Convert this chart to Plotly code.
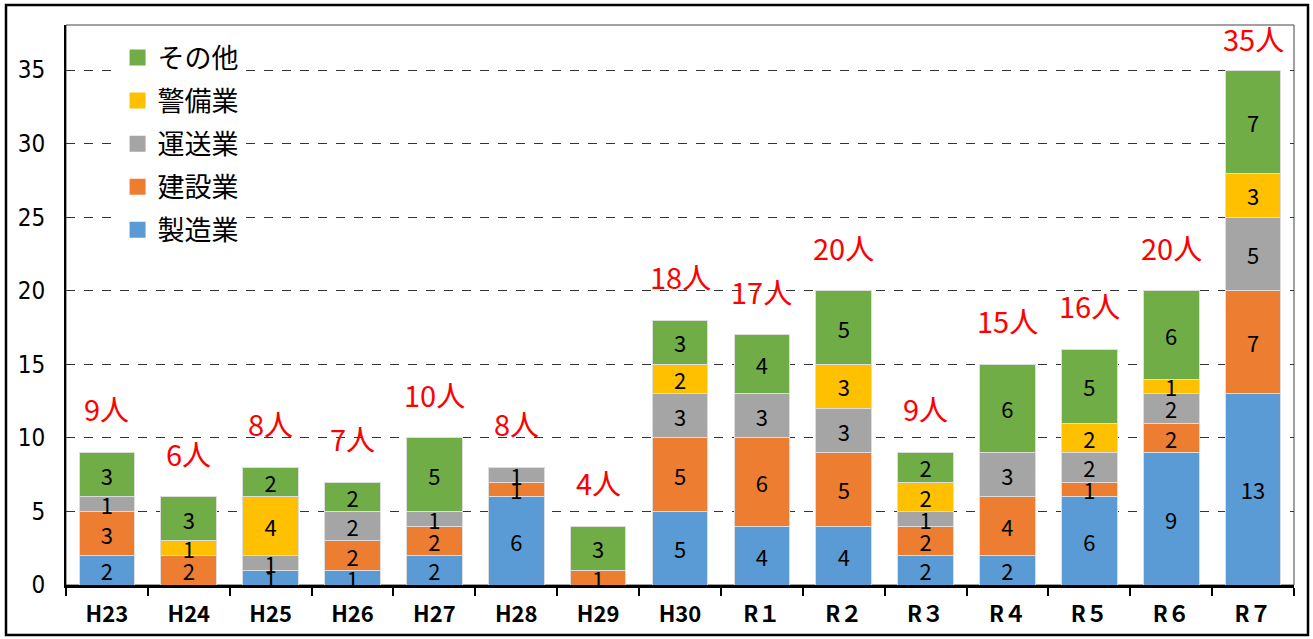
import plotly.graph_objects as go

categories = ["H23", "H24", "H25", "H26", "H27", "H28", "H29", "H30",
              "R１", "R２", "R３", "R４", "R５", "R６", "R７"]
seizo   = [2, 0, 1, 1, 2, 6, 0, 5, 4, 4, 2, 2, 6, 9, 13]
kensetsu = [3, 2, 0, 2, 2, 1, 1, 5, 6, 5, 2, 4, 1, 2, 7]
unso    = [1, 0, 1, 2, 1, 1, 0, 3, 3, 3, 1, 3, 2, 2, 5]
keibi   = [0, 1, 4, 0, 0, 0, 0, 2, 0, 3, 2, 0, 2, 1, 3]
sonota  = [3, 3, 2, 2, 5, 0, 3, 3, 4, 5, 2, 6, 5, 6, 7]

series = [
    ("製造業", seizo, "#5B9BD5"),
    ("建設業", kensetsu, "#ED7D31"),
    ("運送業", unso, "#A5A5A5"),
    ("警備業", keibi, "#FFC000"),
    ("その他", sonota, "#70AD47"),
]

totals = [sum(v) for v in zip(seizo, kensetsu, unso, keibi, sonota)]

CJK = "Noto Sans CJK JP"
fig = go.Figure()
for name, vals, color in series:
    fig.add_trace(go.Bar(
        x=categories, y=vals, name=name, showlegend=False,
        marker=dict(color=color, line=dict(color="#DDDDDD", width=1)),
        text=[str(v) if v else "" for v in vals],
        textposition="inside", insidetextanchor="middle",
        textangle=0, constraintext="none",
        textfont=dict(family=CJK, size=22, color="black"),
        hoverinfo="skip",
    ))
# legend entries (large square swatches), top entry first
for name, vals, color in reversed(series):
    fig.add_trace(go.Scatter(
        x=[None], y=[None], mode="markers", name=name, legendgroup=name,
        marker=dict(symbol="square", size=19, color=color),
        hoverinfo="skip",
    ))

YMAX = 38.06
for c, t in zip(categories, totals):
    fig.add_annotation(x=c, y=min(t + 3, 37.2), text=f"{t}人", showarrow=False,
                       font=dict(family=CJK, size=29, color="#FF0000"),
                       xanchor="center", yanchor="middle")

L, R, T, B = 66, 19, 25, 54
W, H = 1313, 639
pw, ph = W - L - R, H - T - B
# outer frame
fig.add_shape(type="rect", xref="paper", yref="paper",
              x0=(6 - L) / pw, x1=(1308 - L) / pw,
              y0=(H - B - 635) / ph, y1=(H - B - 5) / ph,
              line=dict(color="black", width=2.5), layer="below")
# plot area border
fig.add_shape(type="rect", xref="paper", yref="paper", x0=0, x1=1, y0=0, y1=1,
              line=dict(color="#444444", width=1), layer="below")

fig.update_layout(
    width=W, height=H,
    margin=dict(l=L, r=R, t=T, b=B),
    paper_bgcolor="white", plot_bgcolor="white",
    barmode="stack", bargap=0.32,
    showlegend=True,
    legend=dict(x=0.042, y=0.985, xanchor="left", yanchor="top",
                traceorder="grouped", bgcolor="white",
                font=dict(family=CJK, size=27, color="black"),
                itemwidth=30, tracegroupgap=5),
    xaxis=dict(type="category", showline=True, linecolor="black", linewidth=2.5,
               ticks="outside", tickson="boundaries", ticklen=8, tickwidth=1.5,
               tickcolor="black", showgrid=False, ticklabelstandoff=8,
               tickfont=dict(family="Liberation Sans Narrow, " + CJK, size=22, color="black",
                             weight="bold")),
    yaxis=dict(range=[0, YMAX], dtick=5, tick0=0, showline=True, linecolor="black",
               linewidth=2, showgrid=True, gridcolor="#333333", griddash="dash",
               gridwidth=1, zeroline=False, ticks="", ticklabelstandoff=14,
               tickfont=dict(family="Liberation Sans Narrow, DejaVu Sans Condensed", size=24,
                             color="black")),
)

fig.write_html("out.html", config={"displayModeBar": False},
               post_script="document.body.style.margin='0';")
